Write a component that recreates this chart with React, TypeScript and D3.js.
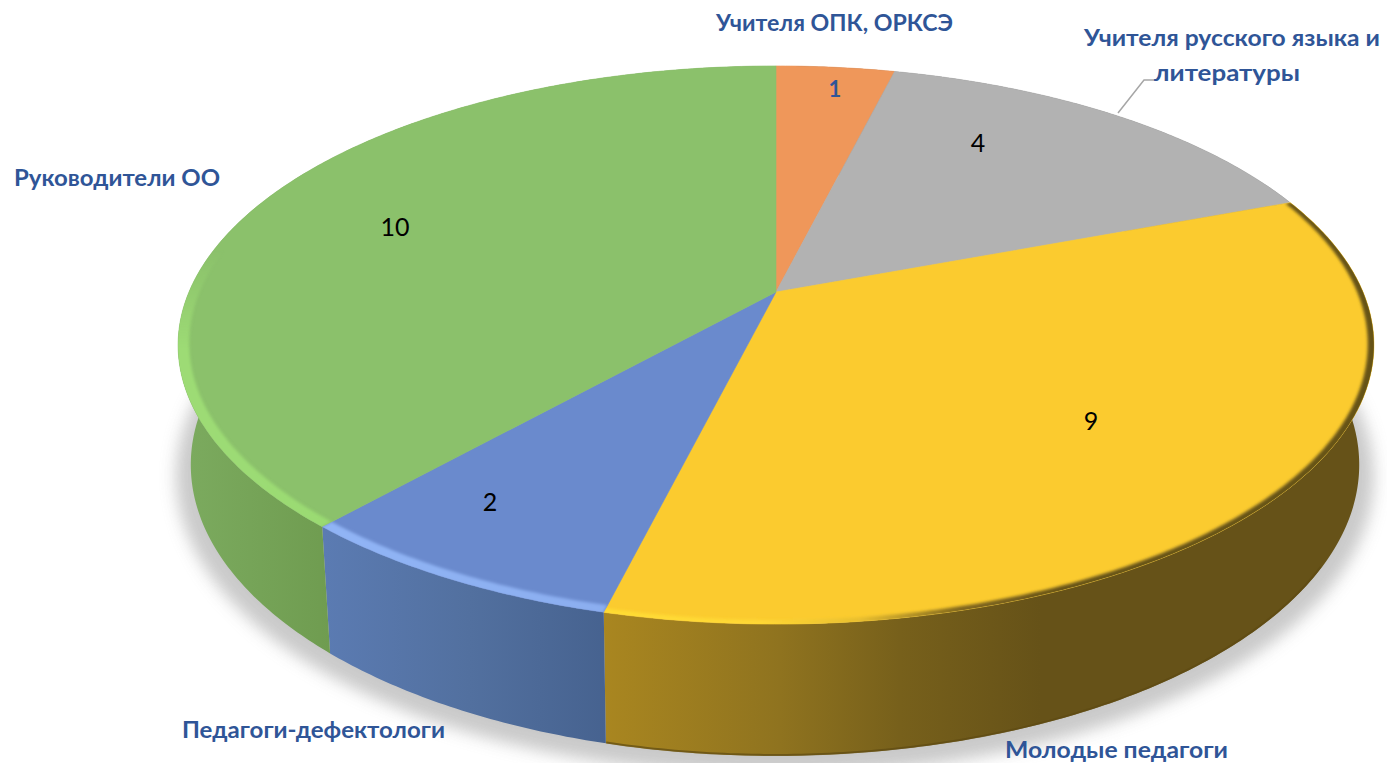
import React from "react";
import * as d3 from "d3";

// ---- data ----
const categories = [
  "Учителя ОПК, ОРКСЭ",
  "Учителя русского языка и литературы",
  "Молодые педагоги",
  "Педагоги-дефектологи",
  "Руководители ОО",
];
const values = [1, 4, 9, 2, 10];

// ---- styles ----
const topColors = ["#EF975A", "#B2B2B2", "#FBCB2F", "#6A8ACD", "#8BC16B"];
const wallStops: [number, string][][] = [
  [[0, "#8f5a35"], [1, "#8f5a35"]],
  [[0, "#6b6b6b"], [1, "#6b6b6b"]],
  [[605, "#A98620"], [780, "#8F731F"], [900, "#77601B"], [1040, "#665218"], [1387, "#665218"]],
  [[325, "#5B7BB2"], [470, "#52709F"], [610, "#46628F"]],
  [[180, "#7CAB5F"], [330, "#6F9C50"]],
];
const rimStops: [number, string, number][][] = [
  [],
  [],
  [[605, "#FFDC33", 1], [760, "#FFD835", 1], [860, "#E8BE2E", 1], [960, "#7E651C", 1], [1060, "#665218", 1], [1387, "#665218", 1]],
  [[325, "#90B4F5", 1], [610, "#8BAEF0", 1]],
  [[176, "#9DDB75", 1], [330, "#9ADA72", 1]],
];

// ---- projection of the pie's circles to the picture ----
const topPlane = { cx: 776, cy: 292, a: 587, b: 269, p: 0.19 };
const botPlane = { cx: 775, cy: 408, a: 573, b: 280, p: 0.195 };
const project = (pl: typeof topPlane, theta: number, r = 1): [number, number] => {
  const u = r * Math.sin(theta);
  const v = -r * Math.cos(theta);
  const d = 1 - pl.p * v;
  return [pl.cx + (pl.a * u) / d, pl.cy + (pl.b * v) / d];
};
const samples = (a0: number, a1: number) => {
  const n = Math.max(2, Math.ceil(Math.abs(a1 - a0) / 0.01));
  return d3.range(n + 1).map((i) => a0 + ((a1 - a0) * i) / n);
};
const line = d3.line<[number, number]>();

const pie = d3.pie<number>().sort(null).startAngle(0).endAngle(2 * Math.PI);
const arcs = pie(values);

const wedgePath = (a0: number, a1: number) =>
  line([[topPlane.cx, topPlane.cy], ...samples(a0, a1).map((t) => project(topPlane, t))]) + "Z";
const wallPath = (a0: number, a1: number) =>
  line([
    ...samples(a0, a1).map((t) => project(topPlane, t)),
    ...samples(a1, a0).map((t) => project(botPlane, t)),
  ]) + "Z";
const ringPath = (a0: number, a1: number, r0: number) =>
  line([
    ...samples(a0, a1).map((t) => project(topPlane, t, 1.004)),
    ...samples(a1, a0).map((t) => project(topPlane, t, r0)),
  ]) + "Z";

const labelFont = "Lato, 'Open Sans', 'Noto Sans', sans-serif";
const labelColor = "#2F5597";

const catLabels = [
  { lines: [{ t: "Учителя ОПК, ОРКСЭ", x: 716, y: 31, w: 237 }] },
  {
    lines: [
      { t: "Учителя русского языка и", x: 1084, y: 46, w: 296 },
      { t: "литературы", x: 1154, y: 81, w: 146 },
    ],
  },
  { lines: [{ t: "Молодые педагоги", x: 1005, y: 758, w: 223 }] },
  { lines: [{ t: "Педагоги-дефектологи", x: 182, y: 738, w: 263 }] },
  { lines: [{ t: "Руководители ОО", x: 14, y: 186, w: 206 }] },
];
const valueLabelPos: [number, number][] = [
  [835, 88],
  [978, 142],
  [1091, 420],
  [490, 501],
  [395, 226],
];

export default function App() {
  const fullBottom = wallPath(0, 2 * Math.PI);
  const bottomOutline = line(samples(0, 2 * Math.PI).map((t) => project(botPlane, t))) + "Z";
  const yellow = arcs[2];
  return (
    <svg
      width={1387}
      height={763}
      viewBox="0 0 1387 763"
      style={{ position: "absolute", left: 0, top: 0, display: "block", background: "#fff" }}
    >
      <defs>
        <filter id="shadow" x="-10%" y="-10%" width="120%" height="120%">
          <feGaussianBlur stdDeviation="8" />
        </filter>
        <filter id="rimBlur" x="-5%" y="-5%" width="110%" height="110%">
          <feGaussianBlur stdDeviation="1.6" />
        </filter>
        {arcs.map((d, i) => (
          <clipPath id={`slice${i}`} key={i}>
            <path d={wedgePath(d.startAngle, d.endAngle)} />
          </clipPath>
        ))}
        {wallStops.map((stops, i) => (
          <linearGradient
            id={`wall${i}`}
            key={i}
            gradientUnits="userSpaceOnUse"
            x1={stops[0][0]}
            x2={stops[stops.length - 1][0] + 1}
            y1={0}
            y2={0}
          >
            {stops.map(([x, c], j) => (
              <stop
                key={j}
                offset={(x - stops[0][0]) / (stops[stops.length - 1][0] + 1 - stops[0][0])}
                stopColor={c}
              />
            ))}
          </linearGradient>
        ))}
        {rimStops.map((stops, i) =>
          stops.length ? (
            <linearGradient
              id={`rim${i}`}
              key={i}
              gradientUnits="userSpaceOnUse"
              x1={stops[0][0]}
              x2={stops[stops.length - 1][0]}
              y1={0}
              y2={0}
            >
              {stops.map(([x, c, o], j) => (
                <stop
                  key={j}
                  offset={(x - stops[0][0]) / (stops[stops.length - 1][0] - stops[0][0])}
                  stopColor={c}
                  stopOpacity={o}
                />
              ))}
            </linearGradient>
          ) : null
        )}
        <linearGradient id="greenRimMask" gradientUnits="userSpaceOnUse" x1={0} x2={0} y1={250} y2={350}>
          <stop offset="0" stopColor="#fff" stopOpacity="0" />
          <stop offset="1" stopColor="#fff" stopOpacity="1" />
        </linearGradient>
        <mask id="greenMask" maskUnits="userSpaceOnUse" x="0" y="0" width="1387" height="763">
          <rect width="1387" height="763" fill="url(#greenRimMask)" />
        </mask>
      </defs>

      {/* shadow */}
      <g filter="url(#shadow)" opacity={0.9}>
        <path d={bottomOutline} fill="#c4c4c4" transform="translate(775 418) scale(1.025) translate(-775 -408)" />
      </g>

      {/* walls */}
      {arcs.map((d, i) => (
        <path key={i} d={wallPath(d.startAngle, d.endAngle)} fill={`url(#wall${i})`} />
      ))}
      <path
        d={line(samples(yellow.startAngle + 0.9, yellow.endAngle).map((t) => project(botPlane, t, 0.998))) || ""}
        fill="none"
        stroke="#5e4a12"
        strokeWidth={2}
        opacity={0.7}
      />

      {/* top face */}
      {arcs.map((d, i) => (
        <path
          key={i}
          d={wedgePath(d.startAngle, d.endAngle)}
          fill={topColors[i]}
          stroke={topColors[i]}
          strokeWidth={0.6}
        />
      ))}

      {/* bevel on the rim */}
      <g clipPath="url(#slice2)">
        <path
          d={ringPath(yellow.startAngle, yellow.endAngle, 0.99)}
          fill="url(#rim2)"
          filter="url(#rimBlur)"
        />
      </g>
      <g clipPath="url(#slice3)">
        <path
          d={ringPath(arcs[3].startAngle, arcs[3].endAngle, 0.982)}
          fill="url(#rim3)"
          filter="url(#rimBlur)"
        />
      </g>
      <g clipPath="url(#slice4)">
        <g mask="url(#greenMask)">
          <path
            d={ringPath(arcs[4].startAngle, arcs[4].startAngle + 1.5, 0.982)}
            fill="url(#rim4)"
            filter="url(#rimBlur)"
          />
        </g>
      </g>

      {/* leader line */}
      <polyline points="1118,113 1144,80 1157,80" fill="none" stroke="#A6A6A6" strokeWidth={1.5} />

      {/* value labels */}
      {values.map((v, i) => (
        <text
          key={i}
          x={valueLabelPos[i][0]}
          y={valueLabelPos[i][1]}
          textAnchor="middle"
          dominantBaseline="central"
          fontFamily={labelFont}
          fontSize={i === 0 ? 22 : 25}
          fontWeight={i === 0 ? 700 : 400}
          fill={i === 0 ? labelColor : "#000"}
        >
          {v}
        </text>
      ))}

      {/* category labels */}
      {catLabels.map((c, i) =>
        c.lines.map((l, j) => (
          <text
            key={`${i}-${j}`}
            x={l.x}
            y={l.y}
            fontFamily={labelFont}
            fontSize={22}
            fontWeight={700}
            fill={labelColor}
            textLength={l.w}
            lengthAdjust="spacingAndGlyphs"
          >
            {l.t}
          </text>
        ))
      )}
    </svg>
  );
}
